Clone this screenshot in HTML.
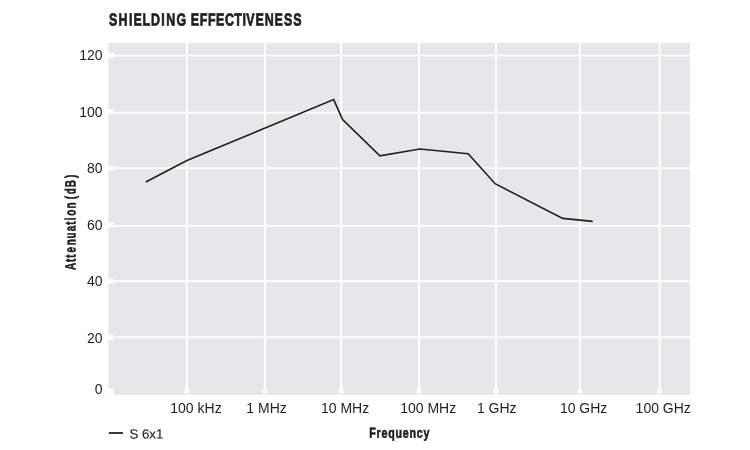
<!DOCTYPE html>
<html lang="en">
<head>
<meta charset="utf-8">
<title>Shielding Effectiveness</title>
<style>
html,body{margin:0;padding:0;background:#fff;}
body{width:750px;height:450px;overflow:hidden;}
svg{display:block;}
text{font-family:"Liberation Sans",Arial,Helvetica,sans-serif;fill:#231f20;}
.lbl{font-size:14px;}
.b{font-weight:bold;}
.cond{stroke:#231f20;stroke-linejoin:miter;vector-effect:non-scaling-stroke;}
</style>
</head>
<body>
<svg width="750" height="450" viewBox="0 0 750 450">
  <rect x="0" y="0" width="750" height="450" fill="#ffffff"/>
  <!-- plot area -->
  <rect x="108.4" y="43" width="581.6" height="351.8" fill="#e6e7e8"/>
  <!-- grid -->
  <g stroke="#ffffff" stroke-width="1.7" fill="none">
    <line x1="108.4" x2="690" y1="55.6" y2="55.6"/>
    <line x1="108.4" x2="690" y1="112.6" y2="112.6"/>
    <line x1="108.4" x2="690" y1="168.1" y2="168.1"/>
    <line x1="108.4" x2="690" y1="225.8" y2="225.8"/>
    <line x1="108.4" x2="690" y1="281.2" y2="281.2"/>
    <line x1="108.4" x2="690" y1="337.4" y2="337.4"/>
  </g>
  <g stroke="#ffffff" stroke-width="1.9" fill="none">
    <line x1="186.9" x2="186.9" y1="43" y2="391"/>
    <line x1="264.9" x2="264.9" y1="43" y2="391"/>
    <line x1="341.1" x2="341.1" y1="43" y2="391"/>
    <line x1="419.0" x2="419.0" y1="43" y2="391"/>
    <line x1="496.0" x2="496.0" y1="43" y2="391"/>
    <line x1="579.8" x2="579.8" y1="43" y2="391"/>
    <line x1="659.6" x2="659.6" y1="43" y2="391"/>
  </g>
  <!-- ticks -->
  <g fill="#ffffff">
    <rect x="108.4" y="52.9" width="5.4" height="4.8"/>
    <rect x="108.4" y="109.2" width="5.4" height="4.8"/>
    <rect x="108.4" y="165.8" width="5.4" height="4.8"/>
    <rect x="108.4" y="222.5" width="5.4" height="4.8"/>
    <rect x="108.4" y="278.8" width="5.4" height="4.8"/>
    <rect x="108.4" y="335.0" width="5.4" height="4.8"/>
    <rect x="108.4" y="388.6" width="5.4" height="6.2"/>
    <rect x="184.45" y="389.2" width="4.9" height="4.2"/>
    <rect x="262.45" y="389.2" width="4.9" height="4.2"/>
    <rect x="338.65" y="389.2" width="4.9" height="4.2"/>
    <rect x="416.55" y="389.2" width="4.9" height="4.2"/>
    <rect x="493.55" y="389.2" width="4.9" height="4.2"/>
    <rect x="577.35" y="389.2" width="4.9" height="4.2"/>
    <rect x="657.15" y="389.2" width="4.9" height="4.2"/>
  </g>
  <!-- curve -->
  <polyline fill="none" stroke="#231f20" stroke-width="1.65" stroke-linejoin="miter" points="145.8,181.9 186.9,160.6 333.7,99.6 342.6,119.6 379.9,155.9 419.9,149.0 468.2,153.7 495.1,183.7 562.7,218.4 592.7,221.4"/>
  <!-- title -->
  <text id="title" class="b cond" transform="translate(0 25.3) rotate(0.05) scale(0.72 1)" font-size="17.3" stroke-width="0.65" x="151.48 164.66 179.09 185.46 197.81 209.69 224.02 230.77 245.21 250.87 264.92 277.46 288.93 300.17 312.40 325.23 336.65 342.17 354.70 367.55 381.31 394.41 407.44">SHIELDING EFFECTIVENESS</text>
  <!-- y labels -->
  <g class="lbl" text-anchor="end">
    <text x="102.6" y="60.3">120</text>
    <text x="102.6" y="117.3">100</text>
    <text x="102.6" y="173.3">80</text>
    <text x="102.6" y="230">60</text>
    <text x="102.6" y="286.3">40</text>
    <text x="102.6" y="342.6">20</text>
    <text x="102.6" y="394">0</text>
  </g>
  <!-- x labels -->
  <g class="lbl">
    <text x="170.3" y="412.7">100 kHz</text>
    <text x="246.3" y="412.7">1 MHz</text>
    <text x="321" y="412.7">10 MHz</text>
    <text x="400.2" y="412.7">100 MHz</text>
    <text x="476.9" y="412.7">1 GHz</text>
    <text x="559.9" y="412.7">10 GHz</text>
    <text x="635.6" y="412.7">100 GHz</text>
  </g>
  <!-- axis titles -->
  <text id="xt" class="b cond" transform="translate(0 437.35) rotate(0.05) scale(0.74 1)" font-size="14.4" stroke-width="0.55" x="498.83 508.73 515.43 524.53 534.42 544.31 553.42 563.31 572.42">Frequency</text>
  <text id="yt" class="b cond" transform="translate(75.5 269.6) rotate(-90.05) scale(0.67 1)" font-size="14.8" stroke-width="0.55" x="-0.63 11.42 17.83 25.48 36.27 46.33 57.19 67.09 73.62 80.48 91.05 95.49 105.01 112.31 122.86 136.78">Attenuation (dB)</text>
  <!-- legend -->
  <line x1="109" x2="122.9" y1="433" y2="433" stroke="#231f20" stroke-width="1.8"/>
  <text transform="translate(129.4 438.6) rotate(0.05)" font-size="13.3" stroke="#231f20" stroke-width="0.15">S 6x1</text>
</svg>
</body>
</html>
